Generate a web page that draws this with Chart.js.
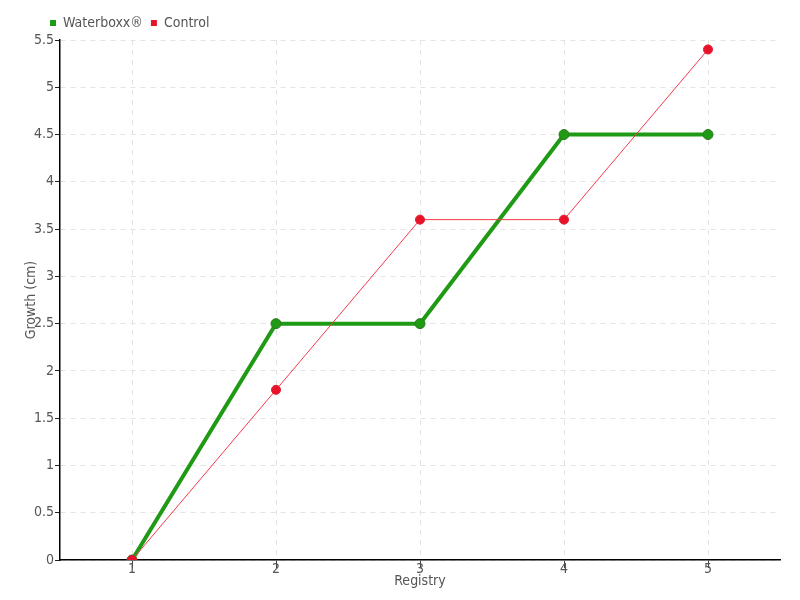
<!DOCTYPE html>
<html>
<head>
<meta charset="utf-8">
<script src="https://cdn.jsdelivr.net/npm/chart.js@4/dist/chart.umd.min.js"></script>
<style>
  html, body { margin: 0; padding: 0; background: #fff; }
  #wrap { width: 800px; height: 600px; }
</style>
</head>
<body>
<div id="wrap"><canvas id="growthChart" width="800" height="600"></canvas></div>
<script>
const registries = ['1', '2', '3', '4', '5'];
const waterboxxGrowth = [0, 2.5, 2.5, 4.5, 4.5];
const controlGrowth = [0, 1.8, 3.6, 3.6, 5.4];
const yTicks = [0, 0.5, 1, 1.5, 2, 2.5, 3, 3.5, 4, 4.5, 5, 5.5];

const FONT = '"DejaVu Sans Condensed", "Liberation Sans Narrow", "DejaVu Sans", sans-serif';

// nudge the legend so it starts above the y axis, like the original
const legendShift = {
    id: 'legendShift',
    afterLayout(chart) {
        const lg = chart.legend;
        const w = lg.right - lg.left;
        lg.left = 42;
        lg.right = 42 + w;
    }
};

const ctx = document.getElementById('growthChart').getContext('2d');

new Chart(ctx, {
    type: 'line',
    data: {
        labels: registries,
        datasets: [{
            label: 'Waterboxx®',
            data: waterboxxGrowth,
            borderColor: '#1f9a14',
            backgroundColor: '#1f9a14',
            pointBackgroundColor: '#1f9a14',
            pointBorderColor: '#2e7a22',
            borderWidth: 4,
            pointRadius: 5,
            pointBorderWidth: 1,
            tension: 0,
            order: 2
        }, {
            label: 'Control',
            data: controlGrowth,
            borderColor: '#f4394b',
            backgroundColor: '#e8132a',
            pointBackgroundColor: '#e8132a',
            pointBorderColor: '#e8132a',
            borderWidth: 1,
            pointRadius: 4.5,
            pointBorderWidth: 1,
            tension: 0,
            order: 1
        }]
    },
    plugins: [legendShift],
    options: {
        responsive: false,
        animation: false,
        layout: { padding: { left: 0, right: 20, top: 8, bottom: 0 } },
        scales: {
            x: {
                offset: true,
                afterFit: axis => { axis.height = 40; },
                grid: {
                    color: '#e3e3e3',
                    tickColor: '#444',
                    tickLength: 8
                },
                border: { color: '#000', width: 1.5, dash: [5, 5] },
                ticks: { color: '#555', font: { family: FONT, size: 14 }, padding: -7 },
                title: { display: true, text: 'Registry', color: '#555', font: { family: FONT, size: 14 }, padding: { top: 0, bottom: 10 } }
            },
            y: {
                min: 0,
                max: 5.5,
                afterFit: axis => { axis.width = 60; },
                afterBuildTicks: axis => { axis.ticks = yTicks.map(v => ({ value: v })); },
                grid: {
                    color: '#e3e3e3',
                    tickColor: '#222',
                    tickLength: 5
                },
                border: { color: '#000', width: 1.5, dash: [5, 5] },
                ticks: { color: '#555', font: { family: FONT, size: 14 }, padding: 1, callback: v => String(v) },
                title: { display: true, text: 'Growth (cm)', color: '#555', font: { family: FONT, size: 14 }, padding: { top: 23, bottom: 0 } }
            }
        },
        plugins: {
            legend: {
                position: 'top',
                align: 'start',
                labels: {
                    boxWidth: 6,
                    boxHeight: 6,
                    color: '#555',
                    font: { family: FONT, size: 14 },
                    padding: 8,
                    generateLabels: chart => chart.data.datasets.map((ds, i) => ({
                        text: ds.label,
                        fillStyle: ds.pointBackgroundColor,
                        strokeStyle: ds.pointBackgroundColor,
                        lineWidth: 0,
                        fontColor: '#555',
                        datasetIndex: i
                    }))
                }
            },
            tooltip: { enabled: false }
        }
    }
});
</script>
</body>
</html>
